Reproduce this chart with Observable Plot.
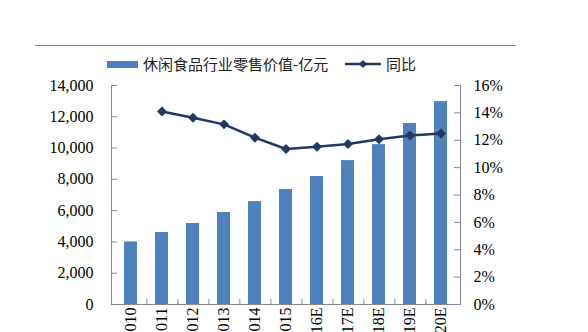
<!DOCTYPE html>
<html>
<head>
<meta charset="utf-8">
<script src="https://cdn.jsdelivr.net/npm/d3@7"></script>
<script src="https://cdn.jsdelivr.net/npm/@observablehq/plot@0.6"></script>
<style>
  body { margin: 0; background: #fff; }
  #wrap { position: relative; width: 588px; height: 332px; overflow: hidden; }
  #rule { position: absolute; left: 35px; top: 45px; width: 481px; height: 1px; background: #8a8a8a; }
  .lg { position: absolute; font-family: "Noto Sans CJK SC", sans-serif; font-size: 15px; color: #222; line-height: 18px; white-space: nowrap; }
  #chart { position: absolute; left: 0; top: 0; }
</style>
</head>
<body>
<div id="wrap">
  <div id="chart"></div>
  <div id="rule"></div>
  <div style="position:absolute;left:107px;top:61px;width:31px;height:7px;background:#4F81BD"></div>
  <div class="lg" style="left:143px;top:55px">休闲食品行业零售价值-亿元</div>
  <svg style="position:absolute;left:344px;top:58px" width="38" height="12">
    <line x1="1" y1="6" x2="37" y2="6" stroke="#1F3864" stroke-width="2.5"></line>
    <path d="M19 2 L23 6 L19 10 L15 6 Z" fill="#1F3864"></path>
  </svg>
  <div class="lg" style="left:386px;top:55px">同比</div>
</div>
<script>
const years = ["2010","2011","2012","2013","2014","2015","2016E","2017E","2018E","2019E","2020E"];
const values = [4000, 4600, 5180, 5880, 6580, 7350, 8180, 9200, 10220, 11570, 12970];
const yoy = [null, 14.1, 13.65, 13.16, 12.19, 11.36, 11.53, 11.73, 12.07, 12.34, 12.5];
const leftTicks = [0, 2000, 4000, 6000, 8000, 10000, 12000, 14000];
const rightTicks = [0, 2, 4, 6, 8, 10, 12, 14, 16];

const leftMax = 14000, rightMax = 16;
const k = leftMax / rightMax;

const bars = years.map((y, i) => ({year: y, value: values[i]}));
const line = years.map((y, i) => ({year: y, pct: yoy[i]})).filter(d => d.pct != null);

const W = 588, H = 332, mL = 111, mR = 128, mT = 85, mB = 28;
const pw = W - mL - mR, ph = H - mT - mB;
const step = pw / years.length;
const serif = "'Liberation Serif', 'DejaVu Serif', serif";

const chart = Plot.plot({
  width: W, height: H,
  marginLeft: mL, marginRight: mR, marginTop: mT, marginBottom: mB,
  style: {fontFamily: serif, fontSize: "16px", color: "#000", background: "transparent", overflow: "visible"},
  x: {domain: years, paddingInner: 0.59, paddingOuter: 0.295, axis: null},
  y: {domain: [0, leftMax], axis: null},
  marks: [
    Plot.barY(bars, {x: "year", y: "value", fill: "#4F81BD"}),
    Plot.ruleY([0], {stroke: "#8a8a8a"}),
    Plot.frame({anchor: "left", stroke: "#8a8a8a"}),
    Plot.frame({anchor: "right", stroke: "#8e7fb8"}),
    Plot.tickY(leftTicks, {y: d => d, insetRight: pw - 6, stroke: "#8a8a8a"}),
    Plot.tickY(rightTicks, {y: d => d * k, insetLeft: pw - 6, stroke: "#8e7fb8"}),
    Plot.tickX(years.slice(0, -1), {x: d => d, dx: step / 2, insetTop: ph - 5, stroke: "#8a8a8a"}),
    Plot.line(line, {x: "year", y: d => d.pct * k, stroke: "#1F3864", strokeWidth: 2.5}),
    Plot.dot(line, {x: "year", y: d => d.pct * k, symbol: "diamond2", r: 4.5, fill: "#1F3864", stroke: "none"}),
    Plot.axisY(leftTicks, {anchor: "left", tickSize: 0, tickPadding: 18, tickFormat: d3.format(","), label: null, fontSize: 16}),
    Plot.axisY(rightTicks.map(p => p * k), {anchor: "right", tickSize: 0, tickPadding: 13, tickFormat: d => Math.round(d / k) + "%", label: null, fontSize: 16}),
    Plot.axisX({anchor: "bottom", tickSize: 0, tickPadding: 3, tickRotate: -90, label: null, fontSize: 16})
  ]
});
d3.select(chart).attr("font-family", serif).style("font-family", serif);
d3.select(chart).selectAll("g, text").attr("font-family", serif).style("font-family", serif);
document.getElementById("chart").appendChild(chart);
</script>
</body>
</html>
